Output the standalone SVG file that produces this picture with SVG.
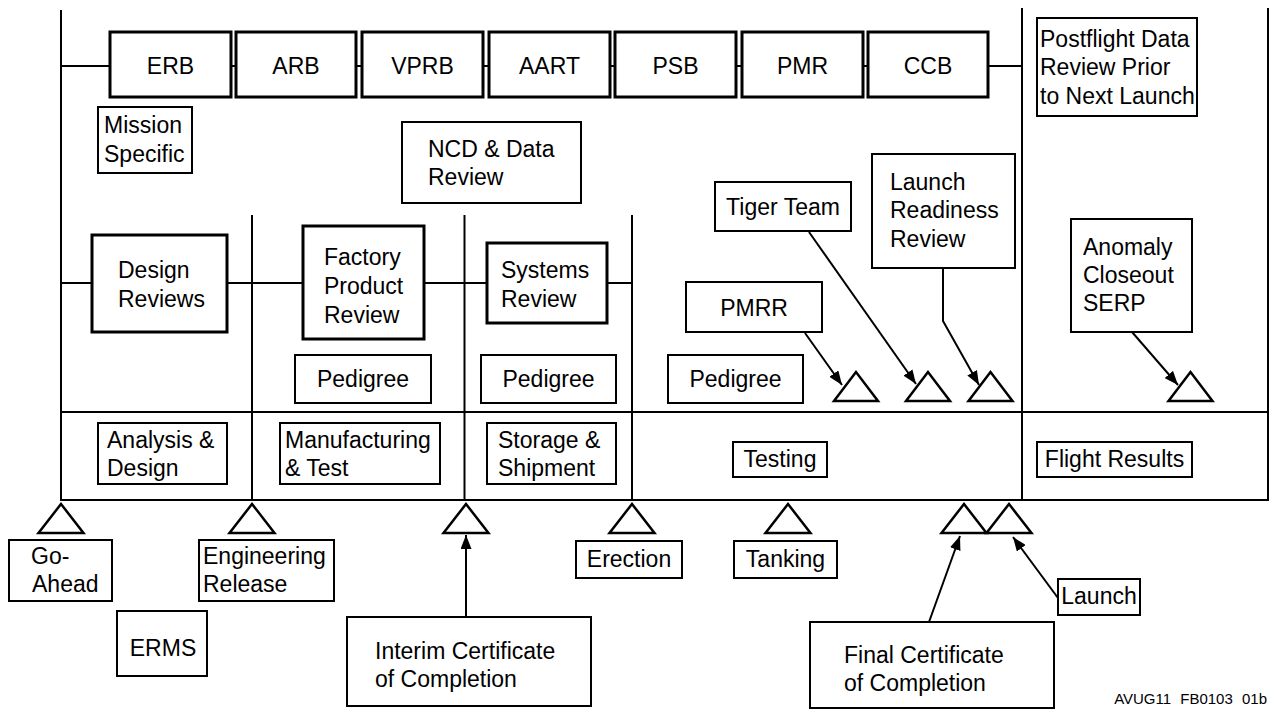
<svg xmlns="http://www.w3.org/2000/svg" width="1270" height="709" viewBox="0 0 1270 709">
<style>
.thick{fill:#fff;stroke:#000;stroke-width:3}
.thin{fill:#fff;stroke:#000;stroke-width:2}
.tri{fill:#fff;stroke:#000;stroke-width:2.5;stroke-linejoin:miter}
.ln{fill:none;stroke:#000;stroke-width:2}
.ar{fill:none;stroke:#000;stroke-width:2;marker-end:url(#ah)}
text{font-family:"Liberation Sans",Arial,Helvetica,sans-serif;font-size:23px;fill:#000}
.c{text-anchor:middle}
.ft{font-size:15px;word-spacing:5px;text-anchor:end}
</style>
<defs>
<marker id="ah" viewBox="0 0 14 11" refX="14" refY="5.5" markerWidth="14" markerHeight="11" markerUnits="userSpaceOnUse" orient="auto">
<path d="M0,0 L14,5.5 L0,11 z" fill="#000"/>
</marker>
</defs>

<g id="frame">
<line class="ln" x1="61" y1="10" x2="61" y2="500"/>
<line class="ln" x1="1022" y1="8" x2="1022" y2="500"/>
<line class="ln" x1="1268" y1="8" x2="1268" y2="500"/>
<line class="ln" x1="61" y1="412" x2="1268" y2="412"/>
<line class="ln" x1="60" y1="500" x2="1269" y2="500"/>
<line class="ln" x1="252" y1="215" x2="252" y2="500"/>
<line class="ln" x1="464.5" y1="215" x2="464.5" y2="500"/>
<line class="ln" x1="632" y1="215" x2="632" y2="500"/>
</g>

<g id="connectors">
<line class="ln" x1="61" y1="66" x2="1022" y2="66"/>
<line class="ln" x1="61" y1="283" x2="632" y2="283"/>
<line class="ar" x1="805" y1="333" x2="842" y2="385"/>
<line class="ar" x1="809" y1="232" x2="916" y2="384"/>
<polyline class="ar" points="943,268 943,321 979,385"/>
<line class="ar" x1="1132" y1="332" x2="1178" y2="385"/>
<line class="ar" x1="466" y1="617" x2="466" y2="535"/>
<line class="ar" x1="929" y1="622" x2="960" y2="536"/>
<line class="ar" x1="1058" y1="598" x2="1013" y2="537"/>
</g>

<g id="milestones">
<polygon class="tri" points="856,372 834,401 878,401"/>
<polygon class="tri" points="928,372 906,401 950,401"/>
<polygon class="tri" points="990.5,372 968.5,401 1012.5,401"/>
<polygon class="tri" points="1190.5,372 1168.5,401 1212.5,401"/>
<polygon class="tri" points="61,504 38.5,533 83.5,533"/>
<polygon class="tri" points="252,504 229.5,533 274.5,533"/>
<polygon class="tri" points="466,504 443.5,533 488.5,533"/>
<polygon class="tri" points="632,504 609.5,533 654.5,533"/>
<polygon class="tri" points="788,504 765.5,533 810.5,533"/>
<polygon class="tri" points="964,504 941.5,533 986.5,533"/>
<polygon class="tri" points="1009,504 986.5,533 1031.5,533"/>
</g>

<g id="erb"><rect class="thick" x="110" y="32" width="121" height="65"/><text class="c" x="170.5" y="74">ERB</text></g>
<g id="arb"><rect class="thick" x="236" y="32" width="120" height="65"/><text class="c" x="296" y="74">ARB</text></g>
<g id="vprb"><rect class="thick" x="362" y="32" width="121" height="65"/><text class="c" x="422.5" y="74">VPRB</text></g>
<g id="aart"><rect class="thick" x="489" y="32" width="121" height="65"/><text class="c" x="549.5" y="74">AART</text></g>
<g id="psb"><rect class="thick" x="615" y="32" width="121" height="65"/><text class="c" x="675.5" y="74">PSB</text></g>
<g id="pmr"><rect class="thick" x="742" y="32" width="121" height="65"/><text class="c" x="802.5" y="74">PMR</text></g>
<g id="ccb"><rect class="thick" x="868" y="32" width="120" height="65"/><text class="c" x="928" y="74">CCB</text></g>

<g id="mission"><rect class="thin" x="98" y="107" width="94" height="66"/><text x="104" y="133">Mission</text><text x="104" y="162">Specific</text></g>
<g id="ncd"><rect class="thin" x="402" y="122" width="179" height="81"/><text x="428" y="157">NCD &amp; Data</text><text x="428" y="185">Review</text></g>
<g id="postflight"><rect class="thin" x="1037" y="18" width="160" height="98"/><text x="1040" y="47">Postflight Data</text><text x="1040" y="75">Review Prior</text><text x="1040" y="104">to Next Launch</text></g>
<g id="tiger"><rect class="thin" x="715" y="182" width="136" height="49"/><text class="c" x="783" y="215">Tiger Team</text></g>
<g id="lrr"><rect class="thin" x="872" y="154" width="143" height="114"/><text x="890" y="190">Launch</text><text x="890" y="218">Readiness</text><text x="890" y="247">Review</text></g>

<g id="design"><rect class="thick" x="92" y="235" width="135" height="97"/><text x="118" y="278">Design</text><text x="118" y="307">Reviews</text></g>
<g id="factory"><rect class="thick" x="303" y="226" width="121" height="113"/><text x="324" y="265">Factory</text><text x="324" y="294">Product</text><text x="324" y="323">Review</text></g>
<g id="systems"><rect class="thick" x="487" y="243" width="120" height="80"/><text x="501" y="278">Systems</text><text x="501" y="307">Review</text></g>
<g id="pmrr"><rect class="thin" x="686" y="282" width="136" height="50"/><text class="c" x="754" y="316">PMRR</text></g>
<g id="anomaly"><rect class="thin" x="1071" y="219" width="121" height="113"/><text x="1083" y="255">Anomaly</text><text x="1083" y="283">Closeout</text><text x="1083" y="311">SERP</text></g>

<g id="ped1"><rect class="thin" x="295" y="355" width="136" height="48"/><text class="c" x="363" y="387">Pedigree</text></g>
<g id="ped2"><rect class="thin" x="481" y="355" width="135" height="48"/><text class="c" x="548.5" y="387">Pedigree</text></g>
<g id="ped3"><rect class="thin" x="668" y="355" width="135" height="48"/><text class="c" x="735.5" y="387">Pedigree</text></g>

<g id="analysis"><rect class="thin" x="98" y="423" width="129" height="61"/><text x="107" y="448">Analysis &amp;</text><text x="107" y="476">Design</text></g>
<g id="manufacturing"><rect class="thin" x="280" y="423" width="160" height="61"/><text x="285" y="448">Manufacturing</text><text x="285" y="476">&amp; Test</text></g>
<g id="storage"><rect class="thin" x="487" y="423" width="129" height="61"/><text x="498" y="448">Storage &amp;</text><text x="498" y="476">Shipment</text></g>
<g id="testing"><rect class="thin" x="733" y="442" width="94" height="35"/><text class="c" x="780" y="467">Testing</text></g>
<g id="flight"><rect class="thin" x="1037" y="442" width="155" height="35"/><text class="c" x="1114.5" y="467">Flight Results</text></g>

<g id="goahead"><rect class="thin" x="9" y="540" width="103" height="61"/><text x="31" y="564">Go-</text><text x="32" y="592">Ahead</text></g>
<g id="engrel"><rect class="thin" x="199" y="540" width="135" height="61"/><text x="203" y="564">Engineering</text><text x="203" y="592">Release</text></g>
<g id="erms"><rect class="thin" x="117" y="611" width="90" height="65"/><text class="c" x="163" y="656">ERMS</text></g>
<g id="interim"><rect class="thin" x="347" y="617" width="244" height="89"/><text x="375" y="659">Interim Certificate</text><text x="375" y="687">of Completion</text></g>
<g id="erection"><rect class="thin" x="576" y="541" width="106" height="37"/><text class="c" x="629" y="567">Erection</text></g>
<g id="tanking"><rect class="thin" x="734" y="541" width="103" height="37"/><text class="c" x="785.5" y="567">Tanking</text></g>
<g id="launch"><rect class="thin" x="1058" y="579" width="82" height="36"/><text class="c" x="1099" y="604">Launch</text></g>
<g id="final"><rect class="thin" x="810" y="622" width="244" height="86"/><text x="844" y="663">Final Certificate</text><text x="844" y="691">of Completion</text></g>

<text class="ft" x="1267" y="704">AVUG11 FB0103 01b</text>
</svg>
